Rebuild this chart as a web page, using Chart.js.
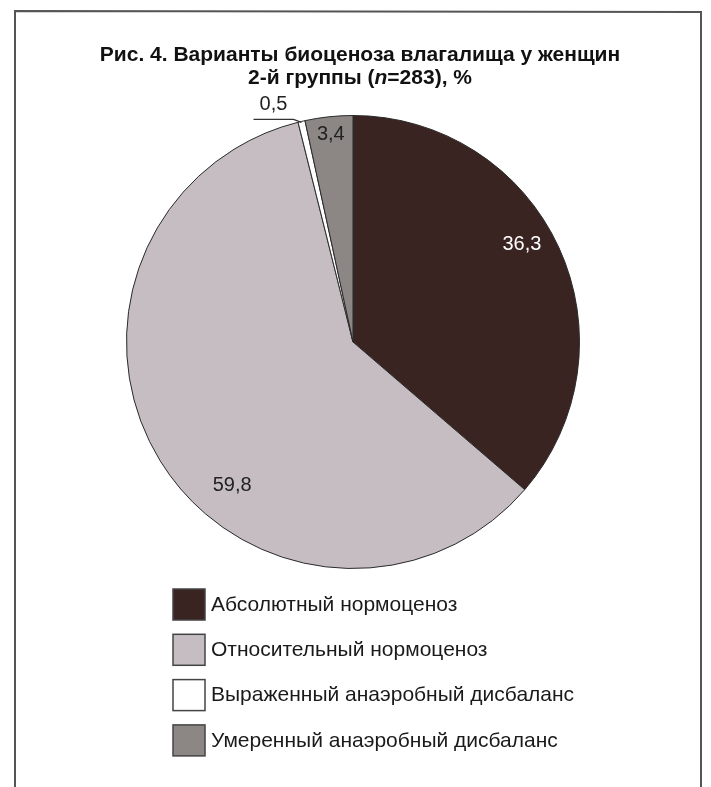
<!DOCTYPE html>
<html><head><meta charset="utf-8">
<script src="https://cdn.jsdelivr.net/npm/chart.js@4"></script>
<style>html,body{margin:0;padding:0;background:#fff;}#wrap{width:711px;height:787px;position:relative}</style>
</head><body><div id="wrap"><canvas id="c" width="711" height="787"></canvas></div>
<script>
const titleLine1 = 'Рис. 4. Варианты биоценоза влагалища у женщин';
const titleLine2 = ['2-й группы (', 'n', '=283), %'];
const categories = ['Абсолютный нормоценоз', 'Относительный нормоценоз', 'Выраженный анаэробный дисбаланс', 'Умеренный анаэробный дисбаланс'];
const values = [36.3, 59.8, 0.5, 3.4];
const valueLabels = ['36,3', '59,8', '0,5', '3,4'];
const colors = ['#3a2422', '#c5bdc1', '#ffffff', '#8c8684'];

const labelPlacement = [
  {t: 0.46, r: 0.86, color: '#ffffff'},
  {t: 0.415, r: 0.83, color: '#222222'},
  {outside: true, color: '#222222'},
  {t: 0.5, r: 0.92, color: '#222222'}
];

const framePlugin = {
  id: 'frame',
  beforeDraw(chart) {
    const ctx = chart.ctx;
    ctx.save();
    ctx.fillStyle = '#ffffff';
    ctx.fillRect(0, 0, chart.width, chart.height);
    ctx.strokeStyle = '#555';
    ctx.lineWidth = 2;
    ctx.beginPath();
    ctx.moveTo(15, chart.height);
    ctx.lineTo(15, 11);
    ctx.lineTo(701, 12);
    ctx.lineTo(701, chart.height);
    ctx.stroke();
    ctx.restore();
  }
};

const titlePlugin = {
  id: 'figTitle',
  afterDraw(chart) {
    const ctx = chart.ctx;
    const cx = 360;
    ctx.save();
    ctx.fillStyle = '#111';
    ctx.textBaseline = 'middle';
    ctx.textAlign = 'left';
    const f = 'bold 21px "Liberation Sans", Arial, sans-serif';
    const fi = 'italic bold 21px "Liberation Sans", Arial, sans-serif';
    ctx.font = f;
    const w = ctx.measureText(titleLine1).width;
    ctx.fillText(titleLine1, cx - w / 2, 55);
    let total = 0;
    const widths = titleLine2.map((s, i) => { ctx.font = i === 1 ? fi : f; const ww = ctx.measureText(s).width; total += ww; return ww; });
    let x = cx - total / 2;
    titleLine2.forEach((s, i) => { ctx.font = i === 1 ? fi : f; ctx.fillText(s, x, 78); x += widths[i]; });
    ctx.restore();
  }
};

const labelPlugin = {
  id: 'sliceLabels',
  afterDatasetsDraw(chart) {
    const ctx = chart.ctx;
    const meta = chart.getDatasetMeta(0);
    ctx.save();
    ctx.font = '20px "Liberation Sans", Arial, sans-serif';
    ctx.textAlign = 'center';
    ctx.textBaseline = 'middle';
    meta.data.forEach((arc, i) => {
      const p = labelPlacement[i];
      const {x, y, startAngle, endAngle, outerRadius} = arc.getProps(['x', 'y', 'startAngle', 'endAngle', 'outerRadius'], true);
      if (p.outside) {
        const a = (startAngle + endAngle) / 2;
        const ex = x + Math.cos(a) * outerRadius;
        const ey = y + Math.sin(a) * outerRadius;
        ctx.strokeStyle = '#333';
        ctx.lineWidth = 1.2;
        ctx.beginPath();
        ctx.moveTo(ex, ey + 1);
        ctx.lineTo(ex - 8, ey - 2);
        ctx.lineTo(ex - 48, ey - 2);
        ctx.stroke();
        ctx.fillStyle = p.color;
        ctx.fillText(valueLabels[i], ex - 28, ey - 17);
      } else {
        const a = startAngle + p.t * (endAngle - startAngle);
        const r = p.r * outerRadius;
        ctx.fillStyle = p.color;
        ctx.fillText(valueLabels[i], x + Math.cos(a) * r, y + Math.sin(a) * r);
      }
    });
    ctx.restore();
  }
};

const legendPlugin = {
  id: 'vertLegend',
  afterDraw(chart) {
    const ctx = chart.ctx;
    const ds = chart.data.datasets[0];
    ctx.save();
    ctx.font = '21px "Liberation Sans", Arial, sans-serif';
    ctx.textBaseline = 'middle';
    ctx.textAlign = 'left';
    chart.data.labels.forEach((lab, i) => {
      const top = 589 + i * 45.3;
      ctx.fillStyle = ds.backgroundColor[i];
      ctx.fillRect(173, top, 32, 31);
      ctx.strokeStyle = '#444';
      ctx.lineWidth = 1.5;
      ctx.strokeRect(173, top, 32, 31);
      ctx.fillStyle = '#1a1a1a';
      ctx.fillText(lab, 211, top + 16);
    });
    ctx.restore();
  }
};

new Chart(document.getElementById('c'), {
  type: 'pie',
  data: {
    labels: categories,
    datasets: [{
      data: values,
      backgroundColor: colors,
      borderColor: '#2b2b2b',
      borderWidth: 1
    }]
  },
  options: {
    responsive: false,
    animation: false,
    layout: {padding: {left: 126, right: 131, top: 115, bottom: 218}},
    plugins: {legend: {display: false}, title: {display: false}, tooltip: {enabled: false}}
  },
  plugins: [framePlugin, titlePlugin, labelPlugin, legendPlugin]
});
</script></body></html>
